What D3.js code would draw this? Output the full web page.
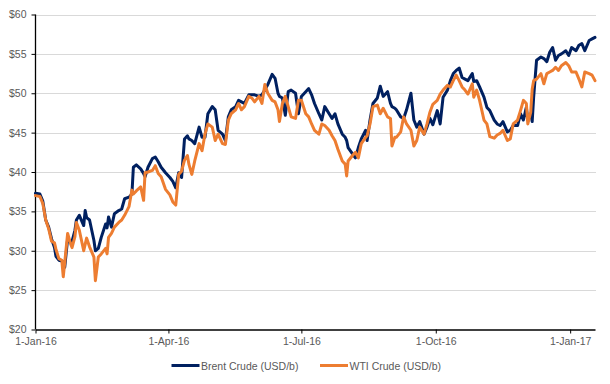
<!DOCTYPE html>
<html>
<head>
<meta charset="utf-8">
<style>
  body { margin:0; background:#fff; }
  text { font-family: "Liberation Sans", Arial, sans-serif; }
</style>
<script src="https://d3js.org/d3.v7.min.js"></script>
</head>
<body>
<div id="content"></div>
<script>
// dates and prices (USD/b)
var dates = ["2016-01-01","2016-01-04","2016-01-06","2016-01-08","2016-01-10","2016-01-12","2016-01-14","2016-01-15","2016-01-17","2016-01-19",
  "2016-01-20","2016-01-21","2016-01-23","2016-01-25","2016-01-26","2016-01-28","2016-01-29","2016-01-31","2016-02-03","2016-02-04",
  "2016-02-05","2016-02-07","2016-02-10","2016-02-11","2016-02-13","2016-02-15","2016-02-18","2016-02-19","2016-02-20","2016-02-22",
  "2016-02-24","2016-02-27","2016-02-29","2016-03-02","2016-03-05","2016-03-07","2016-03-08","2016-03-10","2016-03-13","2016-03-15",
  "2016-03-16","2016-03-18","2016-03-21","2016-03-23","2016-03-25","2016-03-27","2016-03-30","2016-04-02","2016-04-04","2016-04-06",
  "2016-04-08","2016-04-10","2016-04-12","2016-04-14","2016-04-15","2016-04-17","2016-04-19","2016-04-22","2016-04-24","2016-04-26",
  "2016-04-28","2016-05-01","2016-05-03","2016-05-05","2016-05-08","2016-05-10","2016-05-12","2016-05-14","2016-05-17","2016-05-19",
  "2016-05-21","2016-05-23","2016-05-26","2016-05-28","2016-05-30","2016-06-02","2016-06-04","2016-06-06","2016-06-08","2016-06-11",
  "2016-06-13","2016-06-15","2016-06-16","2016-06-18","2016-06-20","2016-06-22","2016-06-24","2016-06-27","2016-06-29","2016-07-01",
  "2016-07-04","2016-07-06","2016-07-08","2016-07-10","2016-07-13","2016-07-15","2016-07-17","2016-07-20","2016-07-22","2016-07-24",
  "2016-07-26","2016-07-29","2016-07-31","2016-08-01","2016-08-02","2016-08-05","2016-08-07","2016-08-09","2016-08-11","2016-08-14",
  "2016-08-15","2016-08-17","2016-08-19","2016-08-22","2016-08-24","2016-08-26","2016-08-29","2016-08-31","2016-09-01","2016-09-03",
  "2016-09-04","2016-09-07","2016-09-09","2016-09-11","2016-09-14","2016-09-16","2016-09-18","2016-09-20","2016-09-23","2016-09-25",
  "2016-09-27","2016-09-29","2016-10-02","2016-10-04","2016-10-06","2016-10-09","2016-10-11","2016-10-13","2016-10-15","2016-10-17",
  "2016-10-19","2016-10-21","2016-10-23","2016-10-26","2016-10-27","2016-10-29","2016-10-31","2016-11-03","2016-11-05","2016-11-07",
  "2016-11-10","2016-11-12","2016-11-14","2016-11-16","2016-11-19","2016-11-21","2016-11-23","2016-11-26","2016-11-28","2016-11-30",
  "2016-12-02","2016-12-03","2016-12-05","2016-12-06","2016-12-07","2016-12-09","2016-12-12","2016-12-14","2016-12-16","2016-12-18",
  "2016-12-20","2016-12-22","2016-12-24","2016-12-26","2016-12-29","2016-12-31","2017-01-02","2017-01-05","2017-01-07","2017-01-09",
  "2017-01-11","2017-01-14","2017-01-16","2017-01-18"];

var brent = [37.3,37.2,36.3,33.9,33.0,31.5,30.4,29.3,28.8,28.7,
  28.6,27.9,31.5,31.0,31.2,32.6,33.9,34.5,33.2,35.1,
  34.2,33.9,31.3,30.0,30.3,31.7,33.4,32.9,34.3,33.0,
  34.7,35.1,35.3,36.6,36.8,37.2,40.6,40.9,40.4,39.8,
  39.4,40.6,41.7,41.9,41.3,40.6,39.9,39.3,38.8,38.0,
  39.9,39.3,44.2,44.6,44.2,44.0,43.6,45.7,44.4,44.4,
  47.4,48.3,47.9,45.3,44.8,44.0,47.0,47.9,48.3,49.1,
  48.9,48.7,49.8,49.8,49.8,49.6,49.8,50.4,51.1,52.4,
  51.9,50.0,49.6,49.4,47.2,50.2,50.4,50.0,47.4,49.6,
  50.2,50.6,49.8,48.7,47.4,46.6,48.3,47.4,46.8,47.4,
  46.1,44.8,44.4,44.0,43.1,42.3,41.8,43.1,44.2,45.3,
  44.0,46.6,48.7,49.4,50.9,49.6,50.2,48.7,48.3,48.1,
  47.9,47.0,46.8,47.9,50.0,46.6,45.7,46.4,44.8,45.7,
  46.8,46.0,47.8,46.1,49.5,50.4,51.6,52.5,52.9,53.2,
  52.0,51.8,51.6,52.5,51.5,51.6,50.8,49.5,48.2,47.8,
  46.6,46.1,45.9,46.4,45.1,45.3,45.9,45.9,47.4,46.6,
  48.2,46.6,47.4,46.4,49.5,54.2,54.6,54.4,54.0,55.2,
  55.8,54.2,54.8,55.0,55.4,54.8,55.8,55.4,56.1,56.3,
  55.4,56.7,56.9,57.1];

var wti = [37.0,36.9,36.0,33.9,32.8,31.2,31.0,30.2,29.0,28.8,
  26.7,28.5,32.2,30.9,30.4,31.8,33.6,32.6,30.0,30.8,
  31.6,30.5,29.2,26.2,29.2,29.6,30.3,29.6,31.7,32.2,
  33.0,33.6,33.9,34.5,35.6,37.7,37.2,37.6,38.1,36.4,
  39.9,40.0,40.2,40.8,39.8,39.4,37.8,37.1,36.2,35.8,
  39.7,40.1,41.5,42.1,41.0,39.7,41.4,43.6,42.7,44.8,
  46.1,45.7,44.0,44.8,43.6,43.5,46.6,47.4,47.9,48.7,
  47.9,48.3,49.6,49.4,48.9,49.6,48.7,51.1,50.0,49.1,
  48.9,47.9,46.4,48.7,49.6,48.3,47.0,46.8,49.1,49.1,
  47.4,47.0,46.1,45.3,44.8,46.1,45.9,45.3,44.6,44.0,
  42.9,41.4,41.0,39.5,41.4,42.1,42.5,41.8,43.6,44.4,
  44.6,46.1,48.3,48.5,47.4,48.1,47.0,46.8,43.3,44.4,
  44.4,45.1,47.0,46.1,45.3,43.3,44.0,45.7,44.8,46.1,
  47.6,48.6,49.1,49.9,50.4,51.0,50.8,51.6,52.3,51.6,
  50.8,50.4,49.9,51.2,49.5,50.4,49.1,46.6,46.1,44.5,
  44.3,44.7,44.9,45.3,44.0,44.2,46.1,46.6,47.8,49.1,
  48.7,46.1,47.6,50.5,51.6,51.8,52.5,51.2,52.5,52.7,
  52.9,53.3,52.9,53.5,53.9,53.5,52.7,52.7,51.8,50.8,
  52.7,52.5,52.3,51.6];

var yTicks = [20,25,30,35,40,45,50,55,60];
var xTicks = ["2016-01-01","2016-04-01","2016-07-01","2016-10-01","2017-01-01"];
var seriesNames = ["Brent Crude (USD/b)","WTI Crude (USD/b)"];
var colours = ["#002060","#ED7D31"];

const svgWidth = 610;
const svgHeight = 384;
var parse = d3.timeParse("%Y-%m-%d");

const svg = d3.select("#content")
  .append("svg")
  .attr("width", svgWidth)
  .attr("height", svgHeight);

var plotLeft = 35.5, plotRight = 595, plotTop = 14.5, plotBottom = 329.5;

var xScale = d3.scaleTime()
  .domain([parse("2016-01-01"), parse("2017-01-18")])
  .range([plotLeft, plotRight]);
var yScale = d3.scaleLinear()
  .domain([20, 60])
  .range([plotBottom, plotTop]);

// horizontal grid lines
svg.append("g")
  .selectAll("line")
  .data(yTicks.slice(1))
  .enter()
  .append("line")
  .attr("x1", plotLeft)
  .attr("x2", plotRight + 1)
  .attr("y1", d => Math.round(yScale(d)) + 0.5)
  .attr("y2", d => Math.round(yScale(d)) + 0.5)
  .attr("stroke", "#d9d9d9")
  .attr("stroke-width", 1);

// y axis
var yAxis = d3.axisLeft(yScale)
  .tickValues(yTicks)
  .tickSize(4)
  .tickPadding(5)
  .tickFormat(d => "$" + d);
var gy = svg.append("g")
  .attr("transform", "translate(" + plotLeft + ",0)")
  .call(yAxis);

// x axis
var xAxis = d3.axisBottom(xScale)
  .tickValues(xTicks.map(parse))
  .tickSize(4)
  .tickPadding(4)
  .tickSizeOuter(0)
  .tickFormat(d3.timeFormat("%-d-%b-%y"));
var gx = svg.append("g")
  .attr("transform", "translate(0," + plotBottom + ")")
  .call(xAxis);

[gx, gy].forEach(function(g) {
  g.select(".domain").attr("stroke", "#000").attr("stroke-width", 1.3);
  g.selectAll(".tick line").attr("stroke", "#000");
  g.selectAll("text")
    .attr("fill", "#595959")
    .style("font-size", "10.5px")
    .style("font-family", "'Liberation Sans', Arial, sans-serif");
});
gy.select(".domain").attr("d", "M0," + plotBottom + "V" + plotTop);

// the two price lines, WTI drawn last so it sits on top
var line = d3.line()
  .x(d => xScale(d.date))
  .y(d => yScale(d.value));

[brent, wti].forEach(function(values, k) {
  var pts = dates.map((d, i) => ({ date: parse(d), value: values[i] }));
  svg.append("path")
    .datum(pts)
    .attr("fill", "none")
    .attr("stroke", colours[k])
    .attr("stroke-width", 3)
    .attr("stroke-linejoin", "round")
    .attr("stroke-linecap", "round")
    .attr("d", line);
});

// legend
var legendX = [171.5, 320];
var legend = svg.append("g");
seriesNames.forEach(function(name, k) {
  legend.append("line")
    .attr("x1", legendX[k])
    .attr("x2", legendX[k] + 28)
    .attr("y1", 365.5)
    .attr("y2", 365.5)
    .attr("stroke", colours[k])
    .attr("stroke-width", 3);
  legend.append("text")
    .attr("x", legendX[k] + 29.5)
    .attr("y", 369.5)
    .attr("fill", "#595959")
    .style("font-size", "10.5px")
    .text(name);
});
</script>
</body>
</html>
